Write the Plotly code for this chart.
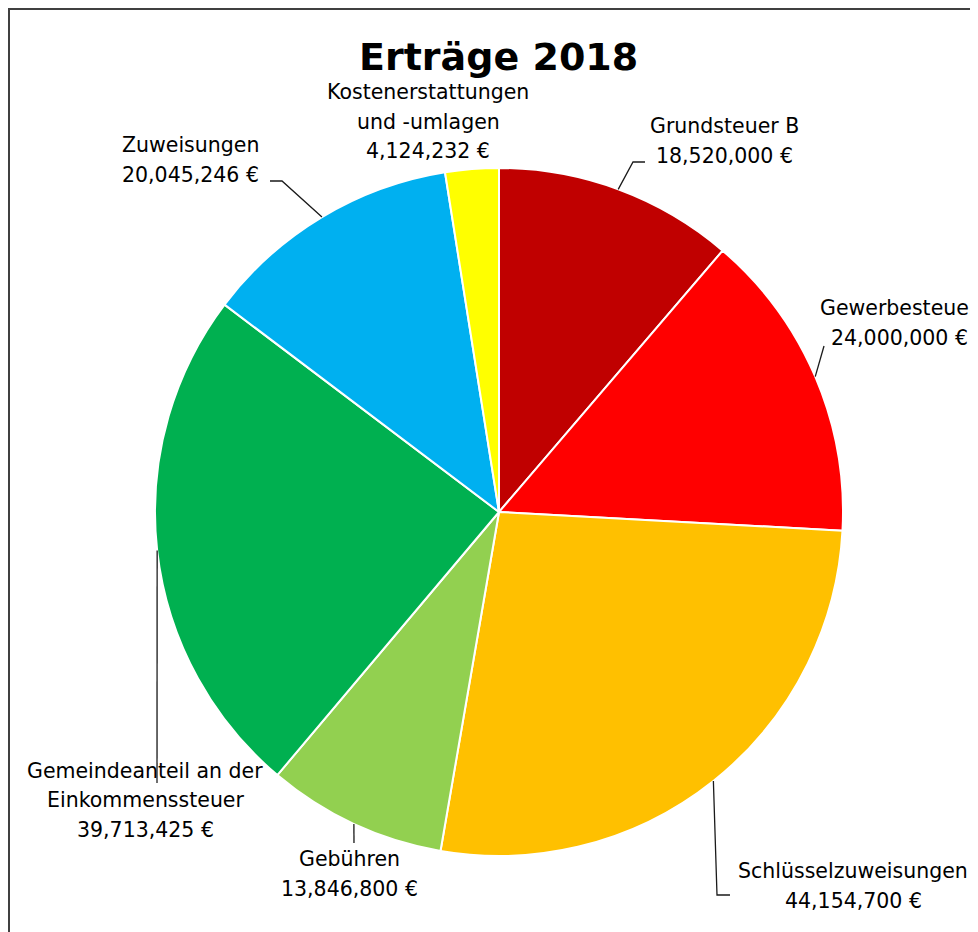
import math
import plotly.graph_objects as go

# ---- data ----
labels = ["Grundsteuer B", "Gewerbesteuer", "Schlüsselzuweisungen", "Gebühren",
          "Gemeindeanteil an der Einkommenssteuer", "Zuweisungen",
          "Kostenerstattungen und -umlagen"]
label_lines = [["Grundsteuer B"], ["Gewerbesteuer"], ["Schlüsselzuweisungen"], ["Gebühren"],
               ["Gemeindeanteil an der", "Einkommenssteuer"], ["Zuweisungen"],
               ["Kostenerstattungen", "und -umlagen"]]
values = [18520000, 24000000, 44154700, 13846800, 39713425, 20045246, 4124232]
colors = ["#C00000", "#FF0000", "#FFC000", "#92D050", "#00B050", "#00B0F0", "#FFFF00"]

# ---- layout (pixel geometry, window coordinates) ----
W, H = 978, 932
OFF = 8  # page body offset
CX, CY, R = 499, 512, 344
LINE_H = 29.5
FS = 20.5
# label block centres (pixels)
label_pos = [(724, 141), (899, 323), (853, 886), (349, 874), (145, 800), (190, 160), (428, 122)]
# leader line elbow points after the pie-edge start point (pixels)
leader_pts = [[(633, 162), (645, 162)],
              [(824, 346)],
              [(717, 895), (730, 895)],
              [(354, 843)],
              [(157, 783)],
              [(282, 181), (270, 181)],
              []]

def px(x):
    return (x - OFF) / W

def py(y):
    return 1 - (y - OFF) / H

fig = go.Figure(go.Pie(
    labels=labels, values=values, sort=False, direction="clockwise", rotation=0,
    marker=dict(colors=colors, line=dict(color="white", width=2)),
    textinfo="none", hoverinfo="label+value", showlegend=False,
    domain=dict(x=[px(CX - R), px(CX + R)], y=[py(CY + R), py(CY - R)]),
))

total = sum(values)
cum = 0
shapes = []
annotations = []
for i, v in enumerate(values):
    mid = (cum + v / 2) / total * 2 * math.pi
    cum += v
    sx = CX + R * math.sin(mid)
    sy = CY - R * math.cos(mid)
    pts = [(sx, sy)] + leader_pts[i]
    if len(pts) > 1:
        path = "M " + " L ".join(f"{px(x):.5f},{py(y):.5f}" for x, y in pts)
        shapes.append(dict(type="path", xref="paper", yref="paper", path=path,
                           line=dict(color="#1a1a1a", width=1.3)))
    lx, ly = label_pos[i]
    lines = label_lines[i] + [f"{v:,} €"]
    n = len(lines)
    for k, t in enumerate(lines):
        yk = ly + (k - (n - 1) / 2) * LINE_H
        annotations.append(dict(x=px(lx), y=py(yk), xref="paper", yref="paper",
                                text=t, showarrow=False, xanchor="center", yanchor="middle",
                                font=dict(family="DejaVu Sans", size=FS, color="#000000")))

annotations.append(dict(x=px(498), y=py(57), xref="paper", yref="paper",
                        text="<b>Erträge 2018</b>", showarrow=False,
                        xanchor="center", yanchor="middle",
                        font=dict(family="DejaVu Sans", size=38, color="#000000")))

# outer chart border (extends past right/bottom edges)
shapes.append(dict(type="rect", xref="paper", yref="paper",
                   x0=px(9), x1=px(W + 40), y0=py(H + 40), y1=py(9),
                   line=dict(color="#404040", width=2), fillcolor="rgba(0,0,0,0)"))

fig.update_layout(width=W, height=H, margin=dict(l=0, r=0, t=0, b=0),
                  paper_bgcolor="white", plot_bgcolor="white",
                  shapes=shapes, annotations=annotations)

fig.write_html("out.html")
